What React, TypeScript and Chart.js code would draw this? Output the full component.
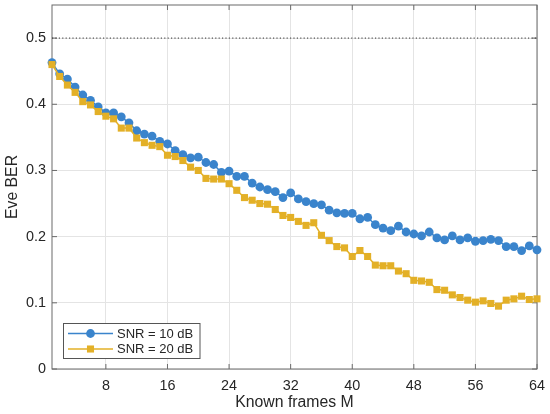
import React, { useEffect, useRef } from "react";
import { Chart, registerables } from "chart.js";

Chart.register(...registerables);

// ---- data ----
const frames = [
  1, 2, 3, 4, 5, 6, 7, 8, 9, 10, 11, 12, 13, 14, 15, 16,
  17, 18, 19, 20, 21, 22, 23, 24, 25, 26, 27, 28, 29, 30, 31, 32,
  33, 34, 35, 36, 37, 38, 39, 40, 41, 42, 43, 44, 45, 46, 47, 48,
  49, 50, 51, 52, 53, 54, 55, 56, 57, 58, 59, 60, 61, 62, 63, 64,
];

const berSnr10 = [
  0.463, 0.446, 0.438, 0.426, 0.414, 0.406, 0.396, 0.387,
  0.387, 0.381, 0.372, 0.36, 0.355, 0.352, 0.344, 0.34,
  0.33, 0.324, 0.319, 0.32, 0.312, 0.309, 0.297, 0.299,
  0.291, 0.291, 0.281, 0.275, 0.271, 0.268, 0.259, 0.266,
  0.257, 0.253, 0.25, 0.248, 0.24, 0.236, 0.235, 0.235,
  0.227, 0.229, 0.218, 0.213, 0.209, 0.216, 0.207, 0.204,
  0.201, 0.207, 0.198, 0.195, 0.201, 0.195, 0.198, 0.193,
  0.194, 0.196, 0.194, 0.185, 0.185, 0.179, 0.186, 0.18,
];

const berSnr20 = [
  0.46, 0.442, 0.429, 0.418, 0.404, 0.399, 0.389, 0.382,
  0.378, 0.364, 0.364, 0.349, 0.342, 0.338, 0.336, 0.323,
  0.321, 0.315, 0.305, 0.3, 0.288, 0.287, 0.287, 0.28,
  0.27, 0.259, 0.255, 0.25, 0.249, 0.241, 0.232, 0.229,
  0.223, 0.217, 0.221, 0.202, 0.194, 0.185, 0.183, 0.17,
  0.179, 0.17, 0.157, 0.156, 0.156, 0.148, 0.144, 0.134,
  0.133, 0.131, 0.12, 0.119, 0.112, 0.108, 0.104, 0.101,
  0.103, 0.099, 0.095, 0.104, 0.106, 0.11, 0.105, 0.106,
];

const seriesLabels = ["SNR = 10 dB", "SNR = 20 dB"];
const referenceLevel = 0.5;
const xTicks = [8, 16, 24, 32, 40, 48, 56, 64];
const yTicks = [0, 0.1, 0.2, 0.3, 0.4, 0.5];
const xRange = [1, 64];
const yRange = [0, 0.55];
const xTitle = "Known frames M";
const yTitle = "Eve BER";

// ---- styles ----
const FONT = "'Liberation Sans', Arial, Helvetica, sans-serif";
const BLUE = "#3a84cc";
const YELLOW = "#e3b027";
const AXIS = "#6a6a6a";
const TEXT = "#262626";
const GRID = "#e4e4e4";

const boxPlugin = {
  id: "matlabBox",
  beforeDatasetsDraw(chart: any) {
    const { ctx, chartArea, scales } = chart;
    const { left, right, top, bottom } = chartArea;
    const len = 5;
    ctx.save();
    ctx.strokeStyle = AXIS;
    ctx.lineWidth = 1;
    ctx.strokeRect(left, top, right - left, bottom - top);
    ctx.beginPath();
    scales.x.ticks.forEach((t: any) => {
      const px = scales.x.getPixelForValue(t.value);
      ctx.moveTo(px, bottom);
      ctx.lineTo(px, bottom - len);
      ctx.moveTo(px, top);
      ctx.lineTo(px, top + len);
    });
    scales.y.ticks.forEach((t: any) => {
      const py = scales.y.getPixelForValue(t.value);
      ctx.moveTo(left, py);
      ctx.lineTo(left + len, py);
      ctx.moveTo(right, py);
      ctx.lineTo(right - len, py);
    });
    ctx.stroke();
    ctx.restore();
  },
};

const legendPlugin = {
  id: "insideLegend",
  afterDraw(chart: any) {
    const { ctx, chartArea } = chart;
    const bx = chartArea.left + 11.5;
    const by = chartArea.bottom - 45.5;
    const bw = 136.5;
    const bh = 35;
    ctx.save();
    ctx.fillStyle = "#ffffff";
    ctx.fillRect(bx, by, bw, bh);
    ctx.strokeStyle = "#555555";
    ctx.lineWidth = 1;
    ctx.strokeRect(bx, by, bw, bh);
    const sets = chart.data.datasets.filter((d: any) => d.inLegend);
    sets.forEach((ds: any, i: number) => {
      const cy = by + 10 + i * 15.5;
      const x0 = bx + 4.5;
      const x1 = bx + 49.5;
      const cx = (x0 + x1) / 2;
      ctx.strokeStyle = ds.borderColor;
      ctx.lineWidth = ds.borderWidth;
      ctx.beginPath();
      ctx.moveTo(x0, cy);
      ctx.lineTo(x1, cy);
      ctx.stroke();
      ctx.fillStyle = ds.backgroundColor;
      if (ds.pointStyle === "rect") {
        const s = ds.pointRadius * Math.SQRT1_2;
        ctx.fillRect(cx - s, cy - s, 2 * s, 2 * s);
      } else {
        ctx.beginPath();
        ctx.arc(cx, cy, ds.pointRadius, 0, Math.PI * 2);
        ctx.fill();
      }
      ctx.fillStyle = TEXT;
      ctx.font = `13px ${FONT}`;
      ctx.textAlign = "left";
      ctx.textBaseline = "middle";
      ctx.fillText(ds.label, bx + 53.5, cy + 0.5);
    });
    ctx.restore();
  },
};

export default function App() {
  const canvasRef = useRef<HTMLCanvasElement | null>(null);

  useEffect(() => {
    if (!canvasRef.current) return;
    const chart = new Chart(canvasRef.current, {
      type: "line",
      data: {
        datasets: [
          {
            label: seriesLabels[0],
            data: frames.map((m, i) => ({ x: m, y: berSnr10[i] })),
            borderColor: BLUE,
            backgroundColor: BLUE,
            borderWidth: 1.5,
            pointStyle: "circle",
            pointRadius: 4.4,
            pointBorderWidth: 0,
            pointHoverRadius: 4.4,
            tension: 0,
            clip: false,
            order: 2,
            inLegend: true,
          } as any,
          {
            label: seriesLabels[1],
            data: frames.map((m, i) => ({ x: m, y: berSnr20[i] })),
            borderColor: YELLOW,
            backgroundColor: YELLOW,
            borderWidth: 1.5,
            pointStyle: "rect",
            pointRadius: 5,
            pointBorderWidth: 0,
            pointHoverRadius: 5,
            tension: 0,
            clip: false,
            order: 1,
            inLegend: true,
          } as any,
          {
            label: "reference",
            data: [
              { x: xRange[0], y: referenceLevel },
              { x: xRange[1], y: referenceLevel },
            ],
            borderColor: "#303030",
            borderWidth: 1,
            borderDash: [1.2, 2.2],
            pointRadius: 0,
            order: 3,
            inLegend: false,
          } as any,
        ],
      },
      options: {
        animation: false,
        responsive: true,
        maintainAspectRatio: false,
        layout: { padding: { left: 0, top: 5, right: 13, bottom: 0 } },
        plugins: {
          legend: { display: false },
          tooltip: { enabled: false },
        },
        scales: {
          x: {
            type: "linear",
            min: xRange[0],
            max: xRange[1],
            afterBuildTicks: (s: any) => {
              s.ticks = xTicks.map((v) => ({ value: v }));
            },
            afterFit: (s: any) => {
              s.height = 45;
              s.paddingLeft = 0;
              s.paddingRight = 0;
            },
            grid: { color: GRID, drawTicks: false },
            border: { display: false },
            ticks: {
              padding: 8,
              color: TEXT,
              autoSkip: false,
              maxRotation: 0,
              font: { family: FONT, size: 14.4 },
              callback: (v: any) => String(v),
            },
            title: {
              display: true,
              text: xTitle,
              color: TEXT,
              font: { family: FONT, size: 15.8 },
              padding: { top: 0, bottom: 1.5 },
            },
          },
          y: {
            type: "linear",
            min: yRange[0],
            max: yRange[1],
            afterBuildTicks: (s: any) => {
              s.ticks = yTicks.map((v) => ({ value: v }));
            },
            afterFit: (s: any) => {
              s.width = 52;
              s.paddingTop = 0;
              s.paddingBottom = 0;
            },
            grid: { color: GRID, drawTicks: false },
            border: { display: false },
            ticks: {
              padding: 6,
              color: TEXT,
              font: { family: FONT, size: 14.4 },
              callback: (v: any) => String(v),
            },
            title: {
              display: true,
              text: yTitle,
              color: TEXT,
              font: { family: FONT, size: 15.8 },
              padding: { top: 3, bottom: 0 },
            },
          },
        },
      },
      plugins: [boxPlugin, legendPlugin],
    });
    return () => chart.destroy();
  }, []);

  return (
    <div
      style={{
        position: "absolute",
        left: 0,
        top: 0,
        width: 550,
        height: 414,
        background: "#ffffff",
      }}
    >
      <canvas ref={canvasRef} />
    </div>
  );
}
